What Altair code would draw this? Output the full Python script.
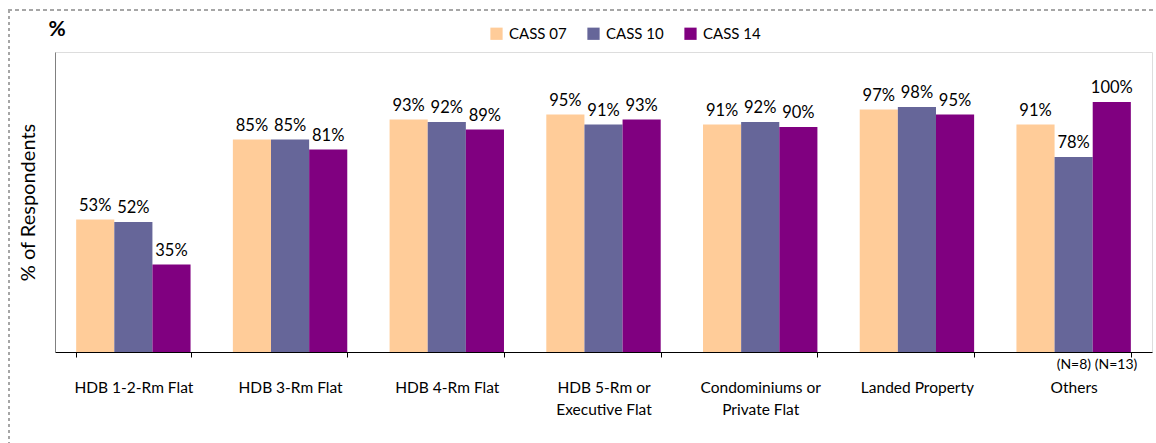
import altair as alt
import pandas as pd

# Share of respondents by housing type across three survey waves
housing = [
    "HDB 1-2-Rm Flat",
    "HDB 3-Rm Flat",
    "HDB 4-Rm Flat",
    "HDB 5-Rm or\nExecutive Flat",
    "Condominiums or\nPrivate Flat",
    "Landed Property",
    "Others",
]
surveys = ["CASS 07", "CASS 10", "CASS 14"]
cass07 = [53, 85, 93, 95, 91, 97, 91]
cass10 = [52, 85, 92, 91, 92, 98, 78]
cass14 = [35, 81, 89, 93, 90, 95, 100]
colors = ["#FFCC99", "#666699", "#800080"]

# sample-size notes shown under the "Others" bars
note_housing = ["Others", "Others"]
note_survey = ["CASS 10", "CASS 14"]
note_text = ["(N=8)", "(N=13)"]

rows = []
for s, vals in zip(surveys, [cass07, cass10, cass14]):
    for h, v in zip(housing, vals):
        rows.append({"housing": h, "survey": s, "value": v, "label": f"{v}%"})
df = pd.DataFrame(rows)
notes = pd.DataFrame({"housing": note_housing, "survey": note_survey, "note": note_text})

FONT = "Lato"

x_enc = alt.X(
    "housing:N",
    sort=housing,
    scale=alt.Scale(paddingInner=0.27, paddingOuter=0.135),
    axis=alt.Axis(
        title=None,
        labelAngle=0,
        labelExpr="split(datum.label, '\\n')",
        labelFontSize=15.5,
        labelColor="#000000",
        labelPadding=23,
        labelLineHeight=22,
        labelBaseline="top",
        tickBand="extent",
        tickSize=5,
        tickColor="#000000",
        domainColor="#000000",
        labelFont=FONT,
    ),
)
xoff = alt.XOffset("survey:N", sort=surveys, scale=alt.Scale(paddingInner=0, paddingOuter=0))
y_scale = alt.Scale(domain=[0, 120], nice=False)

bars = alt.Chart(df).mark_bar().encode(
    x=x_enc,
    xOffset=xoff,
    y=alt.Y(
        "value:Q",
        scale=y_scale,
        axis=alt.Axis(
            title="% of Respondents",
            labels=False,
            ticks=False,
            grid=False,
            domainColor="#808080",
            titleFont=FONT,
            titleFontSize=20,
            titleFontWeight="normal",
            titleColor="#000000",
            titlePadding=17,
        ),
    ),
    color=alt.Color(
        "survey:N",
        sort=surveys,
        scale=alt.Scale(domain=surveys, range=colors),
        legend=alt.Legend(
            title=None,
            orient="none",
            direction="horizontal",
            legendX=434,
            legendY=-26,
            symbolType="square",
            symbolSize=150,
            symbolStrokeWidth=0,
            labelFont=FONT,
            labelFontSize=15,
            labelColor="#000000",
            columnPadding=19,
            labelOffset=5,
        ),
    ),
)

values = alt.Chart(df).mark_text(
    baseline="bottom", dy=-6, fontSize=16.5, font=FONT, color="#000000"
).encode(
    x=alt.X("housing:N", sort=housing),
    xOffset=alt.XOffset("survey:N", sort=surveys),
    y=alt.Y("value:Q", scale=y_scale),
    text="label:N",
)

note_marks = alt.Chart(notes).mark_text(
    baseline="middle", align="left", dx=-17, dy=13, fontSize=14, font=FONT, color="#000000"
).encode(
    x=alt.X("housing:N", sort=housing),
    xOffset=alt.XOffset("survey:N", sort=surveys),
    y=alt.datum(0),
    text="note:N",
)

# unit symbol above the value axis
unit = alt.Chart(pd.DataFrame({"t": ["%"]})).mark_text(
    fontSize=21, fontWeight="bold", font=FONT, color="#000000", align="center", baseline="middle"
).encode(x=alt.value(2), y=alt.value(-22), text="t:N")

# dashed frame along the top and left edges
frame_top = alt.Chart(pd.DataFrame({"k": [0]})).mark_rule(
    color="#a6a6a6", strokeDash=[4, 3], strokeWidth=2
).encode(x=alt.value(-47), x2=alt.value(1101), y=alt.value(-42))
frame_left = alt.Chart(pd.DataFrame({"k": [0]})).mark_rule(
    color="#a6a6a6", strokeDash=[3, 3], strokeWidth=2
).encode(x=alt.value(-46), y=alt.value(-42), y2=alt.value(391))

chart = (
    alt.layer(bars, values, note_marks, unit, frame_top, frame_left)
    .properties(
        width=1097,
        height=300,
        autosize=alt.AutoSizeParams(type="none"),
        padding={"left": 55, "top": 52, "right": 4, "bottom": 91},
    )
    .configure_view(stroke=None)
    .configure(background="#ffffff")
)

chart.save("out.html", embed_options={"renderer": "svg", "actions": False})
